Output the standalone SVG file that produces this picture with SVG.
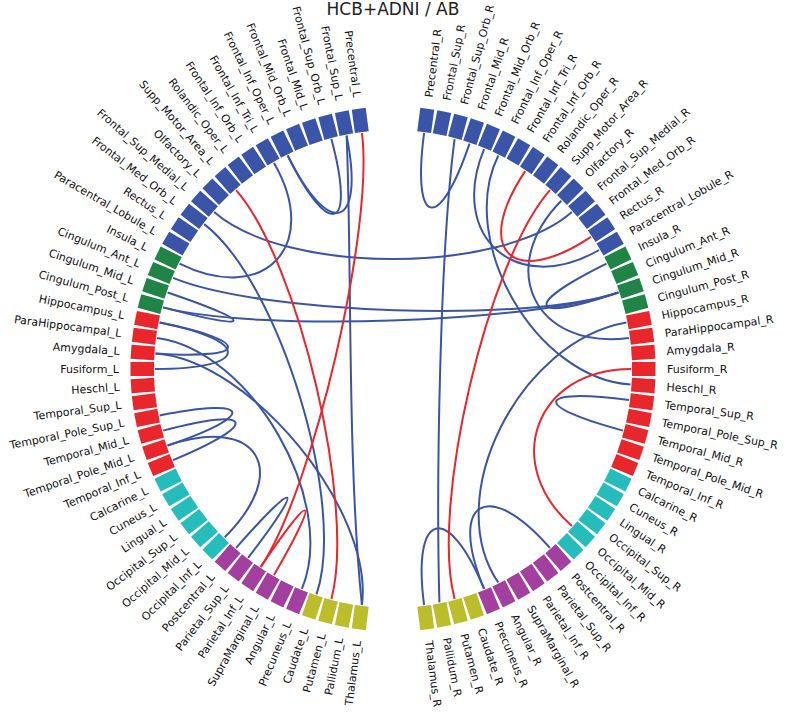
<svg xmlns="http://www.w3.org/2000/svg" width="787" height="714" viewBox="0 0 787 714">
<style>
.b{fill:#3a55a8}.g{fill:#1f8446}.r{fill:#e8262b}.c{fill:#26bcbc}.p{fill:#a23f9f}.y{fill:#bcbd2a}
text{font-family:"DejaVu Sans","Liberation Sans",sans-serif;font-size:11px;fill:#111}
.lt{text-anchor:end}.rt{text-anchor:start}
.cb{fill:none;stroke:#3a55a8;stroke-width:2}
.cr{fill:none;stroke:#e8262b;stroke-width:2}
</style>
<defs><rect id="seg" x="386" y="106.5" width="14" height="23.5"/></defs>
<rect width="787" height="714" fill="#fff"/>
<text x="393" y="15" style="font-size:17px;text-anchor:middle;fill:#222">HCB+ADNI / AB</text>
<g id="segments">
<use href="#seg" class="b" transform="rotate(-7.5 393 369)"/><use href="#seg" class="b" transform="rotate(-11.25 393 369)"/><use href="#seg" class="b" transform="rotate(-15 393 369)"/><use href="#seg" class="b" transform="rotate(-18.75 393 369)"/><use href="#seg" class="b" transform="rotate(-22.5 393 369)"/><use href="#seg" class="b" transform="rotate(-26.25 393 369)"/><use href="#seg" class="b" transform="rotate(-30 393 369)"/><use href="#seg" class="b" transform="rotate(-33.75 393 369)"/><use href="#seg" class="b" transform="rotate(-37.5 393 369)"/><use href="#seg" class="b" transform="rotate(-41.25 393 369)"/><use href="#seg" class="b" transform="rotate(-45 393 369)"/><use href="#seg" class="b" transform="rotate(-48.75 393 369)"/><use href="#seg" class="b" transform="rotate(-52.5 393 369)"/><use href="#seg" class="b" transform="rotate(-56.25 393 369)"/><use href="#seg" class="b" transform="rotate(-60 393 369)"/>
<use href="#seg" class="g" transform="rotate(-63.75 393 369)"/><use href="#seg" class="g" transform="rotate(-67.5 393 369)"/><use href="#seg" class="g" transform="rotate(-71.25 393 369)"/><use href="#seg" class="g" transform="rotate(-75 393 369)"/>
<use href="#seg" class="r" transform="rotate(-78.75 393 369)"/><use href="#seg" class="r" transform="rotate(-82.5 393 369)"/><use href="#seg" class="r" transform="rotate(-86.25 393 369)"/><use href="#seg" class="r" transform="rotate(-90 393 369)"/><use href="#seg" class="r" transform="rotate(-93.75 393 369)"/><use href="#seg" class="r" transform="rotate(-97.5 393 369)"/><use href="#seg" class="r" transform="rotate(-101.25 393 369)"/><use href="#seg" class="r" transform="rotate(-105 393 369)"/><use href="#seg" class="r" transform="rotate(-108.75 393 369)"/><use href="#seg" class="r" transform="rotate(-112.5 393 369)"/>
<use href="#seg" class="c" transform="rotate(-116.25 393 369)"/><use href="#seg" class="c" transform="rotate(-120 393 369)"/><use href="#seg" class="c" transform="rotate(-123.75 393 369)"/><use href="#seg" class="c" transform="rotate(-127.5 393 369)"/><use href="#seg" class="c" transform="rotate(-131.25 393 369)"/><use href="#seg" class="c" transform="rotate(-135 393 369)"/>
<use href="#seg" class="p" transform="rotate(-138.75 393 369)"/><use href="#seg" class="p" transform="rotate(-142.5 393 369)"/><use href="#seg" class="p" transform="rotate(-146.25 393 369)"/><use href="#seg" class="p" transform="rotate(-150 393 369)"/><use href="#seg" class="p" transform="rotate(-153.75 393 369)"/><use href="#seg" class="p" transform="rotate(-157.5 393 369)"/>
<use href="#seg" class="y" transform="rotate(-161.25 393 369)"/><use href="#seg" class="y" transform="rotate(-165 393 369)"/><use href="#seg" class="y" transform="rotate(-168.75 393 369)"/><use href="#seg" class="y" transform="rotate(-172.5 393 369)"/>
<use href="#seg" class="b" transform="rotate(7.5 393 369)"/><use href="#seg" class="b" transform="rotate(11.25 393 369)"/><use href="#seg" class="b" transform="rotate(15 393 369)"/><use href="#seg" class="b" transform="rotate(18.75 393 369)"/><use href="#seg" class="b" transform="rotate(22.5 393 369)"/><use href="#seg" class="b" transform="rotate(26.25 393 369)"/><use href="#seg" class="b" transform="rotate(30 393 369)"/><use href="#seg" class="b" transform="rotate(33.75 393 369)"/><use href="#seg" class="b" transform="rotate(37.5 393 369)"/><use href="#seg" class="b" transform="rotate(41.25 393 369)"/><use href="#seg" class="b" transform="rotate(45 393 369)"/><use href="#seg" class="b" transform="rotate(48.75 393 369)"/><use href="#seg" class="b" transform="rotate(52.5 393 369)"/><use href="#seg" class="b" transform="rotate(56.25 393 369)"/><use href="#seg" class="b" transform="rotate(60 393 369)"/>
<use href="#seg" class="g" transform="rotate(63.75 393 369)"/><use href="#seg" class="g" transform="rotate(67.5 393 369)"/><use href="#seg" class="g" transform="rotate(71.25 393 369)"/><use href="#seg" class="g" transform="rotate(75 393 369)"/>
<use href="#seg" class="r" transform="rotate(78.75 393 369)"/><use href="#seg" class="r" transform="rotate(82.5 393 369)"/><use href="#seg" class="r" transform="rotate(86.25 393 369)"/><use href="#seg" class="r" transform="rotate(90 393 369)"/><use href="#seg" class="r" transform="rotate(93.75 393 369)"/><use href="#seg" class="r" transform="rotate(97.5 393 369)"/><use href="#seg" class="r" transform="rotate(101.25 393 369)"/><use href="#seg" class="r" transform="rotate(105 393 369)"/><use href="#seg" class="r" transform="rotate(108.75 393 369)"/><use href="#seg" class="r" transform="rotate(112.5 393 369)"/>
<use href="#seg" class="c" transform="rotate(116.25 393 369)"/><use href="#seg" class="c" transform="rotate(120 393 369)"/><use href="#seg" class="c" transform="rotate(123.75 393 369)"/><use href="#seg" class="c" transform="rotate(127.5 393 369)"/><use href="#seg" class="c" transform="rotate(131.25 393 369)"/><use href="#seg" class="c" transform="rotate(135 393 369)"/>
<use href="#seg" class="p" transform="rotate(138.75 393 369)"/><use href="#seg" class="p" transform="rotate(142.5 393 369)"/><use href="#seg" class="p" transform="rotate(146.25 393 369)"/><use href="#seg" class="p" transform="rotate(150 393 369)"/><use href="#seg" class="p" transform="rotate(153.75 393 369)"/><use href="#seg" class="p" transform="rotate(157.5 393 369)"/>
<use href="#seg" class="y" transform="rotate(161.25 393 369)"/><use href="#seg" class="y" transform="rotate(165 393 369)"/><use href="#seg" class="y" transform="rotate(168.75 393 369)"/><use href="#seg" class="y" transform="rotate(172.5 393 369)"/>
</g>
<g id="labels-left" class="lt">
<text x="393" y="95" dy=".35em" transform="rotate(-7.5 393 369) rotate(90 393 95)">Precentral_L</text>
<text x="393" y="95" dy=".35em" transform="rotate(-11.25 393 369) rotate(90 393 95)">Frontal_Sup_L</text>
<text x="393" y="95" dy=".35em" transform="rotate(-15 393 369) rotate(90 393 95)">Frontal_Sup_Orb_L</text>
<text x="393" y="95" dy=".35em" transform="rotate(-18.75 393 369) rotate(90 393 95)">Frontal_Mid_L</text>
<text x="393" y="95" dy=".35em" transform="rotate(-22.5 393 369) rotate(90 393 95)">Frontal_Mid_Orb_L</text>
<text x="393" y="95" dy=".35em" transform="rotate(-26.25 393 369) rotate(90 393 95)">Frontal_Inf_Oper_L</text>
<text x="393" y="95" dy=".35em" transform="rotate(-30 393 369) rotate(90 393 95)">Frontal_Inf_Tri_L</text>
<text x="393" y="95" dy=".35em" transform="rotate(-33.75 393 369) rotate(90 393 95)">Frontal_Inf_Orb_L</text>
<text x="393" y="95" dy=".35em" transform="rotate(-37.5 393 369) rotate(90 393 95)">Rolandic_Oper_L</text>
<text x="393" y="95" dy=".35em" transform="rotate(-41.25 393 369) rotate(90 393 95)">Supp_Motor_Area_L</text>
<text x="393" y="95" dy=".35em" transform="rotate(-45 393 369) rotate(90 393 95)">Olfactory_L</text>
<text x="393" y="95" dy=".35em" transform="rotate(-48.75 393 369) rotate(90 393 95)">Frontal_Sup_Medial_L</text>
<text x="393" y="95" dy=".35em" transform="rotate(-52.5 393 369) rotate(90 393 95)">Frontal_Med_Orb_L</text>
<text x="393" y="95" dy=".35em" transform="rotate(-56.25 393 369) rotate(90 393 95)">Rectus_L</text>
<text x="393" y="95" dy=".35em" transform="rotate(-60 393 369) rotate(90 393 95)">Paracentral_Lobule_L</text>
<text x="393" y="95" dy=".35em" transform="rotate(-63.75 393 369) rotate(90 393 95)">Insula_L</text>
<text x="393" y="95" dy=".35em" transform="rotate(-67.5 393 369) rotate(90 393 95)">Cingulum_Ant_L</text>
<text x="393" y="95" dy=".35em" transform="rotate(-71.25 393 369) rotate(90 393 95)">Cingulum_Mid_L</text>
<text x="393" y="95" dy=".35em" transform="rotate(-75 393 369) rotate(90 393 95)">Cingulum_Post_L</text>
<text x="393" y="95" dy=".35em" transform="rotate(-78.75 393 369) rotate(90 393 95)">Hippocampus_L</text>
<text x="393" y="95" dy=".35em" transform="rotate(-82.5 393 369) rotate(90 393 95)">ParaHippocampal_L</text>
<text x="393" y="95" dy=".35em" transform="rotate(-86.25 393 369) rotate(90 393 95)">Amygdala_L</text>
<text x="393" y="95" dy=".35em" transform="rotate(-90 393 369) rotate(90 393 95)">Fusiform_L</text>
<text x="393" y="95" dy=".35em" transform="rotate(-93.75 393 369) rotate(90 393 95)">Heschl_L</text>
<text x="393" y="95" dy=".35em" transform="rotate(-97.5 393 369) rotate(90 393 95)">Temporal_Sup_L</text>
<text x="393" y="95" dy=".35em" transform="rotate(-101.25 393 369) rotate(90 393 95)">Temporal_Pole_Sup_L</text>
<text x="393" y="95" dy=".35em" transform="rotate(-105 393 369) rotate(90 393 95)">Temporal_Mid_L</text>
<text x="393" y="95" dy=".35em" transform="rotate(-108.75 393 369) rotate(90 393 95)">Temporal_Pole_Mid_L</text>
<text x="393" y="95" dy=".35em" transform="rotate(-112.5 393 369) rotate(90 393 95)">Temporal_Inf_L</text>
<text x="393" y="95" dy=".35em" transform="rotate(-116.25 393 369) rotate(90 393 95)">Calcarine_L</text>
<text x="393" y="95" dy=".35em" transform="rotate(-120 393 369) rotate(90 393 95)">Cuneus_L</text>
<text x="393" y="95" dy=".35em" transform="rotate(-123.75 393 369) rotate(90 393 95)">Lingual_L</text>
<text x="393" y="95" dy=".35em" transform="rotate(-127.5 393 369) rotate(90 393 95)">Occipital_Sup_L</text>
<text x="393" y="95" dy=".35em" transform="rotate(-131.25 393 369) rotate(90 393 95)">Occipital_Mid_L</text>
<text x="393" y="95" dy=".35em" transform="rotate(-135 393 369) rotate(90 393 95)">Occipital_Inf_L</text>
<text x="393" y="95" dy=".35em" transform="rotate(-138.75 393 369) rotate(90 393 95)">Postcentral_L</text>
<text x="393" y="95" dy=".35em" transform="rotate(-142.5 393 369) rotate(90 393 95)">Parietal_Sup_L</text>
<text x="393" y="95" dy=".35em" transform="rotate(-146.25 393 369) rotate(90 393 95)">Parietal_Inf_L</text>
<text x="393" y="95" dy=".35em" transform="rotate(-150 393 369) rotate(90 393 95)">SupraMarginal_L</text>
<text x="393" y="95" dy=".35em" transform="rotate(-153.75 393 369) rotate(90 393 95)">Angular_L</text>
<text x="393" y="95" dy=".35em" transform="rotate(-157.5 393 369) rotate(90 393 95)">Precuneus_L</text>
<text x="393" y="95" dy=".35em" transform="rotate(-161.25 393 369) rotate(90 393 95)">Caudate_L</text>
<text x="393" y="95" dy=".35em" transform="rotate(-165 393 369) rotate(90 393 95)">Putamen_L</text>
<text x="393" y="95" dy=".35em" transform="rotate(-168.75 393 369) rotate(90 393 95)">Pallidum_L</text>
<text x="393" y="95" dy=".35em" transform="rotate(-172.5 393 369) rotate(90 393 95)">Thalamus_L</text>
</g>
<g id="labels-right" class="rt">
<text x="393" y="95" dy=".35em" transform="rotate(7.5 393 369) rotate(-90 393 95)">Precentral_R</text>
<text x="393" y="95" dy=".35em" transform="rotate(11.25 393 369) rotate(-90 393 95)">Frontal_Sup_R</text>
<text x="393" y="95" dy=".35em" transform="rotate(15 393 369) rotate(-90 393 95)">Frontal_Sup_Orb_R</text>
<text x="393" y="95" dy=".35em" transform="rotate(18.75 393 369) rotate(-90 393 95)">Frontal_Mid_R</text>
<text x="393" y="95" dy=".35em" transform="rotate(22.5 393 369) rotate(-90 393 95)">Frontal_Mid_Orb_R</text>
<text x="393" y="95" dy=".35em" transform="rotate(26.25 393 369) rotate(-90 393 95)">Frontal_Inf_Oper_R</text>
<text x="393" y="95" dy=".35em" transform="rotate(30 393 369) rotate(-90 393 95)">Frontal_Inf_Tri_R</text>
<text x="393" y="95" dy=".35em" transform="rotate(33.75 393 369) rotate(-90 393 95)">Frontal_Inf_Orb_R</text>
<text x="393" y="95" dy=".35em" transform="rotate(37.5 393 369) rotate(-90 393 95)">Rolandic_Oper_R</text>
<text x="393" y="95" dy=".35em" transform="rotate(41.25 393 369) rotate(-90 393 95)">Supp_Motor_Area_R</text>
<text x="393" y="95" dy=".35em" transform="rotate(45 393 369) rotate(-90 393 95)">Olfactory_R</text>
<text x="393" y="95" dy=".35em" transform="rotate(48.75 393 369) rotate(-90 393 95)">Frontal_Sup_Medial_R</text>
<text x="393" y="95" dy=".35em" transform="rotate(52.5 393 369) rotate(-90 393 95)">Frontal_Med_Orb_R</text>
<text x="393" y="95" dy=".35em" transform="rotate(56.25 393 369) rotate(-90 393 95)">Rectus_R</text>
<text x="393" y="95" dy=".35em" transform="rotate(60 393 369) rotate(-90 393 95)">Paracentral_Lobule_R</text>
<text x="393" y="95" dy=".35em" transform="rotate(63.75 393 369) rotate(-90 393 95)">Insula_R</text>
<text x="393" y="95" dy=".35em" transform="rotate(67.5 393 369) rotate(-90 393 95)">Cingulum_Ant_R</text>
<text x="393" y="95" dy=".35em" transform="rotate(71.25 393 369) rotate(-90 393 95)">Cingulum_Mid_R</text>
<text x="393" y="95" dy=".35em" transform="rotate(75 393 369) rotate(-90 393 95)">Cingulum_Post_R</text>
<text x="393" y="95" dy=".35em" transform="rotate(78.75 393 369) rotate(-90 393 95)">Hippocampus_R</text>
<text x="393" y="95" dy=".35em" transform="rotate(82.5 393 369) rotate(-90 393 95)">ParaHippocampal_R</text>
<text x="393" y="95" dy=".35em" transform="rotate(86.25 393 369) rotate(-90 393 95)">Amygdala_R</text>
<text x="393" y="95" dy=".35em" transform="rotate(90 393 369) rotate(-90 393 95)">Fusiform_R</text>
<text x="393" y="95" dy=".35em" transform="rotate(93.75 393 369) rotate(-90 393 95)">Heschl_R</text>
<text x="393" y="95" dy=".35em" transform="rotate(97.5 393 369) rotate(-90 393 95)">Temporal_Sup_R</text>
<text x="393" y="95" dy=".35em" transform="rotate(101.25 393 369) rotate(-90 393 95)">Temporal_Pole_Sup_R</text>
<text x="393" y="95" dy=".35em" transform="rotate(105 393 369) rotate(-90 393 95)">Temporal_Mid_R</text>
<text x="393" y="95" dy=".35em" transform="rotate(108.75 393 369) rotate(-90 393 95)">Temporal_Pole_Mid_R</text>
<text x="393" y="95" dy=".35em" transform="rotate(112.5 393 369) rotate(-90 393 95)">Temporal_Inf_R</text>
<text x="393" y="95" dy=".35em" transform="rotate(116.25 393 369) rotate(-90 393 95)">Calcarine_R</text>
<text x="393" y="95" dy=".35em" transform="rotate(120 393 369) rotate(-90 393 95)">Cuneus_R</text>
<text x="393" y="95" dy=".35em" transform="rotate(123.75 393 369) rotate(-90 393 95)">Lingual_R</text>
<text x="393" y="95" dy=".35em" transform="rotate(127.5 393 369) rotate(-90 393 95)">Occipital_Sup_R</text>
<text x="393" y="95" dy=".35em" transform="rotate(131.25 393 369) rotate(-90 393 95)">Occipital_Mid_R</text>
<text x="393" y="95" dy=".35em" transform="rotate(135 393 369) rotate(-90 393 95)">Occipital_Inf_R</text>
<text x="393" y="95" dy=".35em" transform="rotate(138.75 393 369) rotate(-90 393 95)">Postcentral_R</text>
<text x="393" y="95" dy=".35em" transform="rotate(142.5 393 369) rotate(-90 393 95)">Parietal_Sup_R</text>
<text x="393" y="95" dy=".35em" transform="rotate(146.25 393 369) rotate(-90 393 95)">Parietal_Inf_R</text>
<text x="393" y="95" dy=".35em" transform="rotate(150 393 369) rotate(-90 393 95)">SupraMarginal_R</text>
<text x="393" y="95" dy=".35em" transform="rotate(153.75 393 369) rotate(-90 393 95)">Angular_R</text>
<text x="393" y="95" dy=".35em" transform="rotate(157.5 393 369) rotate(-90 393 95)">Precuneus_R</text>
<text x="393" y="95" dy=".35em" transform="rotate(161.25 393 369) rotate(-90 393 95)">Caudate_R</text>
<text x="393" y="95" dy=".35em" transform="rotate(165 393 369) rotate(-90 393 95)">Putamen_R</text>
<text x="393" y="95" dy=".35em" transform="rotate(168.75 393 369) rotate(-90 393 95)">Pallidum_R</text>
<text x="393" y="95" dy=".35em" transform="rotate(172.5 393 369) rotate(-90 393 95)">Thalamus_R</text>
</g>
<g id="connectors">
<path class="cb" d="M346.6,135.6 C365.1,228.7 329.8,240.7 287.7,155.5"/>
<path class="cb" d="M331.4,139.1 C356,230.9 329.8,240.7 287.7,155.5"/>
<path class="cb" d="M346.6,135.6 C352,260 347,460 361.9,605"/>
<path class="cb" d="M274,162.9 C321.5,245.2 264.7,305.8 179.5,263.7"/>
<path class="cb" d="M214.1,212.1 C285.5,274.7 500.5,274.7 571.9,212.1"/>
<path class="cb" d="M173.1,277.9 C260.9,314.3 528.6,323 618.4,292.5"/>
<path class="cb" d="M163.1,307.4 C254.9,332 528.6,323 618.4,292.5"/>
<path class="cb" d="M204.2,224.1 C279.5,281.9 347,504.4 316.5,594.4"/>
<path class="cb" d="M157,337.9 C251.2,350.3 338.3,501.1 301.9,588.9"/>
<path class="cb" d="M155.5,353.4 C250.3,359.6 374.3,510.8 361.9,605"/>
<path class="cb" d="M159.6,322.6 C252.7,341.1 250.3,359.6 155.5,353.4"/>
<path class="cb" d="M159.6,322.6 C252.7,341.1 250,369 155,369"/>
<path class="cb" d="M167.6,292.5 C257.6,323 254.9,332 163.1,307.4"/>
<path class="cb" d="M159.6,415.4 C252.7,396.9 257.6,415 167.6,445.5"/>
<path class="cb" d="M163.1,430.6 C254.9,406 260.9,423.7 173.1,460.1"/>
<path class="cb" d="M224.7,537.3 C291.9,470.1 257.6,415 167.6,445.5"/>
<path class="cb" d="M236.1,547.9 C298.7,476.5 305.9,482.5 248.1,557.8"/>
<path class="cb" d="M484.1,588.9 C447.7,501.1 411.7,510.8 424.1,605"/>
<path class="cb" d="M549.9,547.9 C487.3,476.5 447.7,501.1 484.1,588.9"/>
<path class="cb" d="M424.1,133 C411.7,227.2 439,233.6 469.5,143.6"/>
<path class="cb" d="M498.3,155.5 C456.2,240.7 535.7,378.4 630.5,384.6"/>
<path class="cb" d="M454.6,139.1 C440,250 436,480 439.4,602.4"/>
<path class="cb" d="M484.1,149.1 C447.7,236.9 516.9,297.5 599.1,250"/>
<path class="cb" d="M606.5,263.7 C521.3,305.8 528.4,323 618.4,292.5"/>
<path class="cb" d="M561.3,200.7 C494.9,267.9 534.8,350.3 629,337.9"/>
<path class="cb" d="M626.4,322.6 C520,341.1 440,497.3 498.3,582.5"/>
<path class="cb" d="M629,400.1 C534.8,387.7 531.1,406 622.9,430.6"/>
<path class="cr" d="M361.9,133 C374.3,227.2 313.6,487.9 260.8,566.9"/>
<path class="cr" d="M236.1,190.1 C298.7,261.5 356,507.1 331.4,598.9"/>
<path class="cr" d="M260.8,566.9 C313.6,487.9 321.5,492.8 274,575.1"/>
<path class="cr" d="M525.2,171.1 C472.4,250.1 511.9,289.6 590.9,236.8"/>
<path class="cr" d="M549.9,190.1 C487.3,261.5 430,507.1 454.6,598.9"/>
<path class="cr" d="M631,369 C536,369 500.5,463.3 571.9,525.9"/>
</g>
</svg>
